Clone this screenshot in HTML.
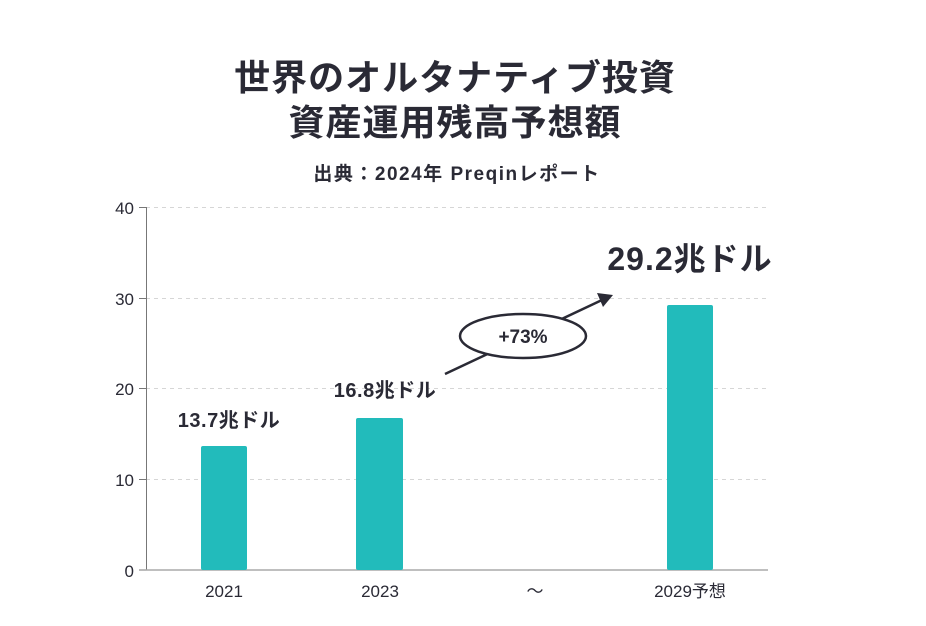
<!DOCTYPE html>
<html><head><meta charset="utf-8"><style>
body{margin:0;background:#fff;}
svg text{font-family:"Liberation Sans","Noto Sans CJK JP",sans-serif;fill:#2a2a35;}
</style></head><body>
<svg width="926" height="621" viewBox="0 0 926 621" xmlns="http://www.w3.org/2000/svg">
<text x="455" y="90" text-anchor="middle" font-size="36" font-weight="bold" letter-spacing="1">世界のオルタナティブ投資</text>
<text x="455" y="135" text-anchor="middle" font-size="36" font-weight="bold" letter-spacing="1">資産運用残高予想額</text>
<text x="457" y="180" text-anchor="middle" font-size="19" font-weight="bold" letter-spacing="1.5">出典：2024年 Preqinレポート</text>
<g stroke="#d6d6d6" stroke-width="1" stroke-dasharray="4,4">
<line x1="146" y1="207.5" x2="770" y2="207.5"/>
<line x1="146" y1="298.5" x2="770" y2="298.5"/>
<line x1="146" y1="388.5" x2="770" y2="388.5"/>
<line x1="146" y1="479.5" x2="770" y2="479.5"/>
</g>
<line x1="146.5" y1="207" x2="146.5" y2="570" stroke="#777" stroke-width="1"/>
<line x1="146" y1="570" x2="768" y2="570" stroke="#aaa" stroke-width="1.5"/>
<g stroke="#777"><line x1="139" y1="207.5" x2="146" y2="207.5"/><line x1="139" y1="298.5" x2="146" y2="298.5"/><line x1="139" y1="388.5" x2="146" y2="388.5"/><line x1="139" y1="479.5" x2="146" y2="479.5"/><line x1="139" y1="570" x2="146" y2="570"/></g>
<g font-size="17" text-anchor="end">
<text x="134" y="214">40</text><text x="134" y="305">30</text><text x="134" y="395">20</text><text x="134" y="486">10</text><text x="134" y="577">0</text>
</g>
<g fill="#22bbbb">
<rect x="201" y="446" width="46" height="124" rx="2"/>
<rect x="356" y="418" width="47" height="152" rx="2"/>
<rect x="667" y="305" width="46" height="265" rx="2"/>
</g>
<g font-size="17" text-anchor="middle">
<text x="224" y="597">2021</text><text x="380" y="597">2023</text><text x="535" y="597">～</text><text x="690" y="597">2029予想</text>
</g>
<text x="229" y="427" text-anchor="middle" font-size="20" font-weight="bold" letter-spacing="0.5">13.7兆ドル</text>
<text x="385" y="397" text-anchor="middle" font-size="20" font-weight="bold" letter-spacing="0.5">16.8兆ドル</text>
<text x="690" y="270" text-anchor="middle" font-size="32" font-weight="bold" letter-spacing="1">29.2兆ドル</text>
<line x1="445" y1="374" x2="602" y2="300" stroke="#2a2a35" stroke-width="2.5"/>
<polygon points="613,295 597,293 603,307" fill="#2a2a35"/>
<ellipse cx="523" cy="336" rx="63" ry="22" fill="#fff" stroke="#2a2a35" stroke-width="2.5"/>
<text x="523" y="343" text-anchor="middle" font-size="19" font-weight="bold">+73%</text>
</svg>
</body></html>
